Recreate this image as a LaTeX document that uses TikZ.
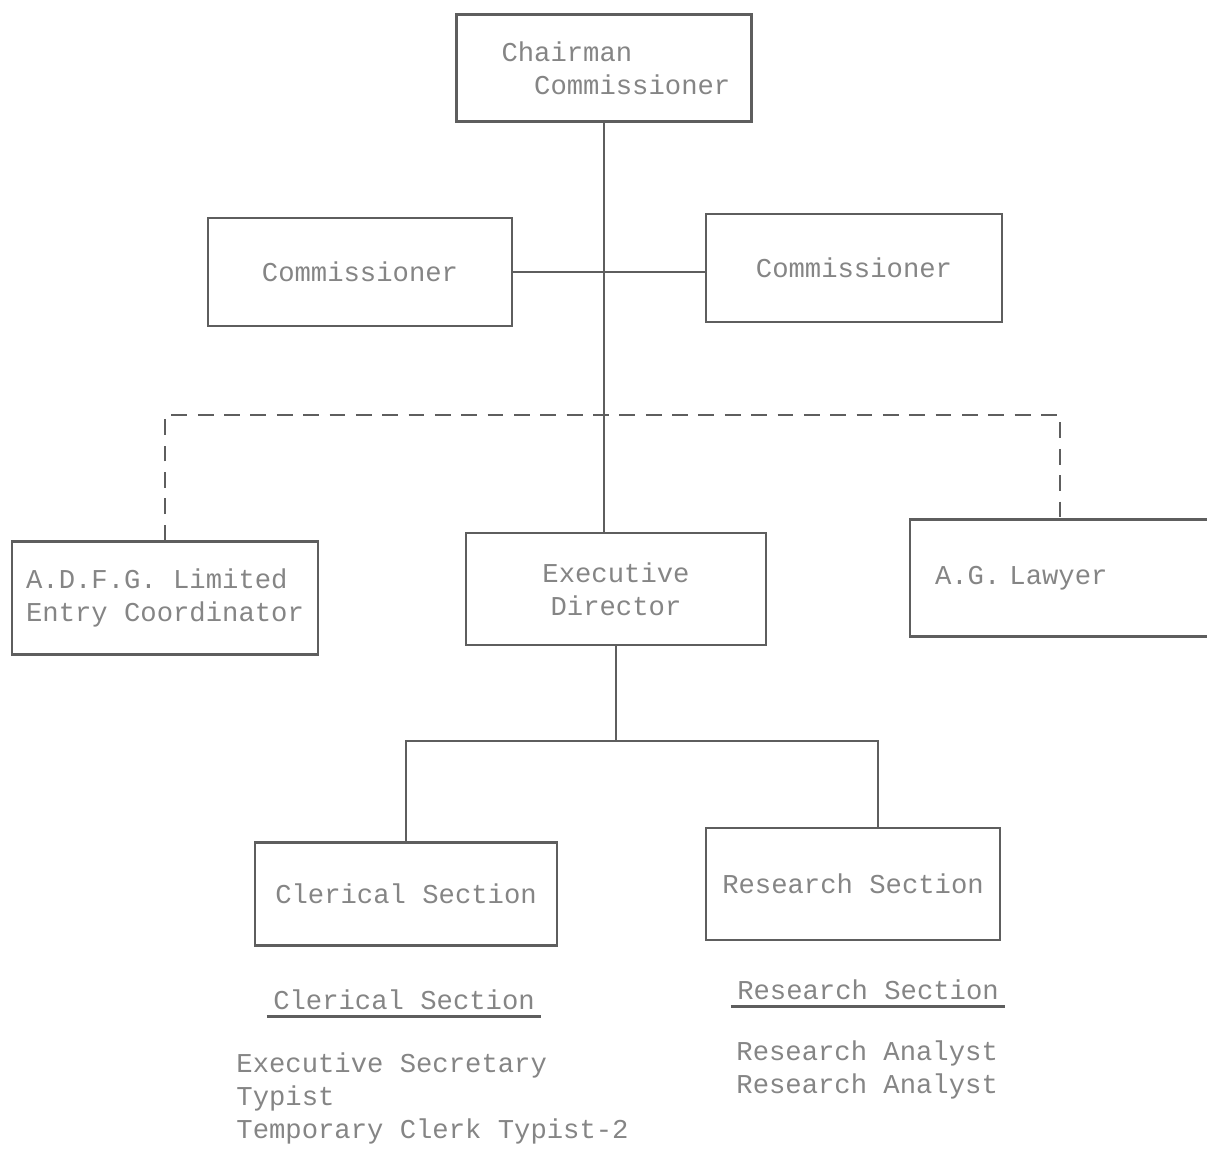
\documentclass[tikz,border=0pt]{standalone}
\usepackage{fontspec}
\setmonofont{Liberation Mono}
\usepackage{tikz}
\usetikzlibrary{positioning}
\definecolor{inkline}{HTML}{5E5E5E}
\definecolor{inktext}{HTML}{858585}

\begin{document}
\begin{tikzpicture}[x=0.02cm,y=-0.02cm,line width=1.3pt,draw=inkline,
                    font=\ttfamily\fontsize{15.5}{19}\selectfont]
  \tikzset{orgbox/.style={draw=inkline,text=inktext,align=center,inner sep=2pt},
           plain/.style={text=inktext,inner sep=3pt}}
  \useasboundingbox (0,0) rectangle (1207,1161);

  \node[orgbox,text width=4.1cm,inner xsep=0.9cm,align=left,minimum height=2.14cm]
        (chair) at (604,68) {Chairman\\\rlap{\hspace*{1.2em}Commissioner}};
  \node[orgbox,minimum width=6.08cm,minimum height=2.16cm] (comL) at (360,272) {Commissioner};
  \node[orgbox,minimum width=5.92cm,minimum height=2.16cm] (comR) at (854,268) {Commissioner};

  \node[orgbox,minimum width=6.12cm,minimum height=2.26cm,align=left]
        (adfg) at (165,598) {A.D.F.G. Limited\\Entry Coordinator};
  \node[orgbox,minimum width=6.0cm,minimum height=2.24cm] (exec) at (616,589) {Executive\\Director};
  \node[orgbox,text width=5cm,inner xsep=0.5cm,align=left,minimum height=2.34cm]
        (agl) at (1060,578) {A.G.\ Lawyer};

  \node[orgbox,minimum width=6.04cm,minimum height=2.06cm] (cler) at (406,894) {Clerical Section};
  \node[orgbox,minimum width=5.88cm,minimum height=2.24cm] (res) at (853,884) {Research Section};

  % lines of authority
  \draw (chair.south) -- (chair.south |- exec.north);
  \draw (comL.east |- 0,272) -- (comR.west |- 0,272);
  \coordinate (advise) at (604,415);
  \draw[dash pattern=on 9pt off 6pt,line width=1pt] (adfg.north) |- (advise) -| (agl.north);
  \draw (exec.south) -- ++(0,95) coordinate (split);
  \draw (cler.north) |- (split) -| ([xshift=0.5cm]res.north);

  % staff lists
  \node[plain] (clerhd) at (404,1000) {Clerical Section};
  \draw (clerhd.south west) -- (clerhd.south east);
  \node[plain,anchor=north west,align=left]
        (clerlist) at (230,1046) {Executive Secretary\\Typist\\Temporary Clerk Typist-2};

  \node[plain] (reshd) at (868,990) {Research Section};
  \draw (reshd.south west) -- (reshd.south east);
  \node[plain,anchor=north west,align=left]
        (reslist) at (730,1034) {Research Analyst\\Research Analyst};
\end{tikzpicture}
\end{document}
